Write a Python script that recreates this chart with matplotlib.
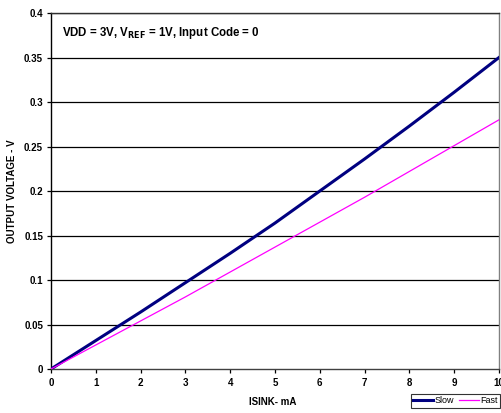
import numpy as np
import matplotlib
matplotlib.use("Agg")
from matplotlib import pyplot as plt

plt.rcParams['font.family'] = ['Liberation Sans', 'DejaVu Sans']
plt.rcParams['font.weight'] = 'bold'

isink = [0, 1, 2, 3, 4, 5, 6, 7, 8, 9, 10]
slow = [0, 0.032, 0.064, 0.097, 0.130, 0.164, 0.200, 0.236, 0.273, 0.311, 0.350]
fast = [0, 0.027, 0.054, 0.081, 0.109, 0.137, 0.165, 0.193, 0.222, 0.251, 0.280]
x_ticks = [0, 1, 2, 3, 4, 5, 6, 7, 8, 9, 10]
y_ticks = [0, 0.05, 0.1, 0.15, 0.2, 0.25, 0.3, 0.35, 0.4]
y_labels = ['0', '0.05', '0.1', '0.15', '0.2', '0.25', '0.3', '0.35', '0.4']

fig = plt.figure(figsize=(5.01, 4.13), dpi=100)
ax = fig.add_axes([0.1018, 0.1065, 0.8942, 0.862])

# grid lines at every y tick
for yv in y_ticks[1:]:
    ax.axhline(yv, color='black', lw=0.9, zorder=1)

l1, = ax.plot(isink, slow, color='#000080', lw=2.2, zorder=3)
l2, = ax.plot(isink, fast, color='#FF00FF', lw=0.9, zorder=3)

ax.set_xlim(0, 10)
ax.set_ylim(0, 0.4)
ax.set_xticks(x_ticks)
ax.set_yticks(y_ticks)
ax.set_yticklabels(y_labels)
ax.tick_params(axis='both', labelsize=7, direction='out', length=3, width=0.9)
ax.tick_params(axis='y', pad=2.7)
ax.tick_params(axis='x', pad=3.2)
for lab in ax.get_xticklabels() + ax.get_yticklabels():
    lab.set_fontweight('bold')

ax.spines['left'].set_color('black')
ax.spines['bottom'].set_color('#404040')
ax.spines['top'].set_color('#303030')
ax.spines['right'].set_color('#808080')
for s in ax.spines.values():
    s.set_linewidth(1.0)

ax.text(0.025, 0.945, r'VDD = 3V, V$_{\mathbf{REF}}$ = 1V, Input Code = 0',
        transform=ax.transAxes, fontsize=8.3, fontweight='bold', va='center')

ax.set_xlabel('ISINK- mA', fontsize=7, fontweight='bold')
ax.set_ylabel('OUTPUT VOLTAGE - V', fontsize=7, fontweight='bold')
ax.xaxis.set_label_coords(0.495, -0.08)
ax.yaxis.set_label_coords(-0.075, 0.5)

leg = fig.legend([l1, l2], ['Slow', 'Fast'], loc='lower right',
                 bbox_to_anchor=(0.998, 0.012), ncol=2, fontsize=6.5,
                 frameon=True, fancybox=False, edgecolor='black',
                 handlelength=2.2, handletextpad=0.1, columnspacing=0.6,
                 borderpad=0.3, borderaxespad=0)
leg.get_frame().set_linewidth(0.8)
for t in leg.get_texts():
    t.set_fontweight('normal')

fig.savefig('out.png', dpi=100)
